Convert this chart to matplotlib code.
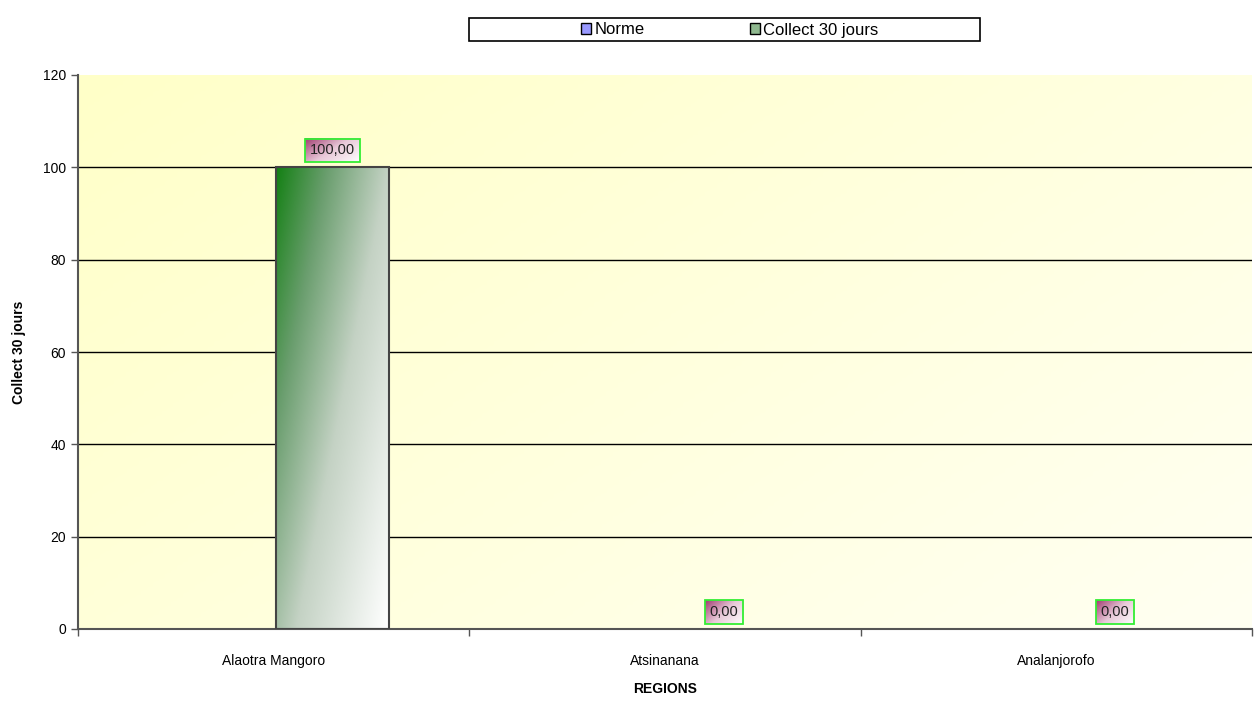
import numpy as np
import matplotlib.pyplot as plt
from matplotlib.colors import LinearSegmentedColormap
from matplotlib.patches import Rectangle

regions = ["Alaotra Mangoro", "Atsinanana", "Analanjorofo"]
norme = [np.nan, np.nan, np.nan]
collect = [100.0, 0.0, 0.0]
yticks = [0, 20, 40, 60, 80, 100, 120]

plt.rcParams['font.family'] = ['Liberation Sans Narrow', 'Liberation Sans', 'DejaVu Sans']

W, H = 1254, 704
fig = plt.figure(figsize=(W / 100, H / 100), dpi=100)
ax = fig.add_axes([78 / W, 1 - 629 / H, 1174 / W, 554 / H])

x = np.arange(len(regions))
width = 0.287
offset = 0.15

gx, gy = np.meshgrid(np.linspace(0, 1, 200), np.linspace(0, 1, 200))

# background gradient, yellower at top left
bg = LinearSegmentedColormap.from_list("bg", ["#ffffc8", "#fffff2"])
ax.imshow(gx * 0.6 + gy * 0.4, cmap=bg, extent=[-0.5, 2.5, 0, 120],
          origin="upper", aspect="auto", zorder=0)

for y in yticks[1:-1]:
    ax.axhline(y, color="black", lw=1, zorder=1)

# bars with diagonal green gradient (corner to corner)
bar_cmap = LinearSegmentedColormap.from_list(
    "bar", [(0, "#148014"), (0.25, "#6a9e6e"), (0.55, "#c4d2c4"), (1, "#ffffff")])
labels = []
for xi, v in zip(x, collect):
    left = xi + offset - width / 2
    if v > 0:
        img = ax.imshow(gx * 0.55 + gy * 0.45, cmap=bar_cmap,
                        extent=[left, left + width, 0, v], origin="upper",
                        aspect="auto", zorder=2)
        rect = Rectangle((left, 0), width, v, fill=False, ec="#444444", lw=1.5, zorder=3)
        ax.add_patch(rect)
        img.set_clip_path(rect)
    t = ax.text(xi + offset, v + 2.2, f"{v:.2f}".replace(".", ","), ha="center", va="bottom",
                fontsize=10.5, color="#222222", zorder=5,
                bbox=dict(boxstyle="square,pad=0.32", fc="none", ec="#33ee33", lw=1.3))
    labels.append(t)

# legend proxies
ax.bar(x - offset, norme, width, color="#9999ff", ec="black", label="Norme")
ax.bar([0], [np.nan], width, color="#8fb88f", ec="black", label="Collect 30 jours")

ax.set_xlim(-0.5, 2.5)
ax.set_ylim(0, 120)
ax.set_yticks(yticks)
ax.set_xticks(x)
ax.set_xticklabels(regions, fontsize=10)
ax.tick_params(axis="x", length=0, pad=18)
ax.set_xticks([-0.5, 0.5, 1.5, 2.5], minor=True)
ax.tick_params(axis="x", which="minor", length=5, width=1, color="#555555")
ax.tick_params(axis="y", length=5, width=1, color="#555555", labelsize=10)
for s in ["top", "right"]:
    ax.spines[s].set_visible(False)
for s in ["left", "bottom"]:
    ax.spines[s].set_color("#555555")
    ax.spines[s].set_linewidth(1.5)

ax.set_xlabel("REGIONS", fontsize=10, fontweight="bold", labelpad=10)
ax.set_ylabel("Collect 30 jours", fontsize=10, fontweight="bold", labelpad=12)

# legend frame drawn separately so it can be wide
fig.patches.append(Rectangle((469 / W, 1 - 41 / H), 511 / W, 23 / H, transform=fig.transFigure,
                             fill=False, ec="black", lw=1.2))
fig.legend(loc="center", bbox_to_anchor=(730 / W, 1 - 30 / H), ncol=2,
           fontsize=12, frameon=False,
           handlelength=0.6, handleheight=0.6, handletextpad=0.2,
           columnspacing=6.3)

# magenta-to-white gradient inside the data label boxes
fig.canvas.draw()
lab_cmap = LinearSegmentedColormap.from_list("lab", ["#a03c70", "#e8c8d8", "#ffffff"])
inv = ax.transData.inverted()
for t in labels:
    bb = t.get_bbox_patch().get_window_extent()
    (x0, y0), (x1, y1) = inv.transform([[bb.x0, bb.y0], [bb.x1, bb.y1]])
    ax.imshow(gx * 0.6 + gy * 0.4, cmap=lab_cmap, extent=[x0, x1, y0, y1],
              origin="upper", aspect="auto", zorder=4)
ax.set_xlim(-0.5, 2.5)
ax.set_ylim(0, 120)

fig.savefig("out.png", dpi=100)
